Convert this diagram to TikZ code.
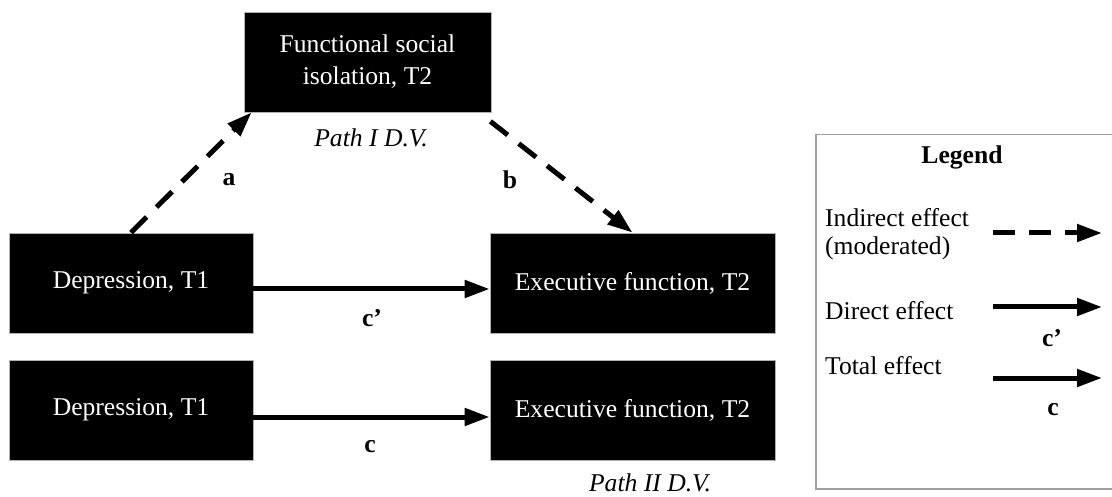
\documentclass[tikz,border=0pt]{standalone}
\usepackage{fontspec}
\setmainfont{Liberation Serif}
\usetikzlibrary{arrows.meta}
\begin{document}
\begin{tikzpicture}[x=1pt,y=-1pt,
  box/.style={fill=black, draw=gray!60, line width=0.8pt, text=white, inner sep=0pt, align=center, font=\fontsize{25.6}{32}\selectfont},
  lbl/.style={font=\fontsize{25.6}{30}\selectfont\bfseries, inner sep=0pt},
  dv/.style={font=\fontsize{25.6}{30}\selectfont\itshape, inner sep=0pt},
  txt/.style={font=\fontsize{25.6}{28}\selectfont, inner sep=0pt, align=left, anchor=west},
  arr/.style={line width=5pt, -{Triangle[length=25pt,width=17pt]}},
  darr/.style={arr, dash pattern=on 22pt off 14pt},
]
\useasboundingbox (0,0) rectangle (1112,497);
\clip (0,0) rectangle (1112,497);

\node[box, minimum width=247pt, minimum height=100pt] (fsi) at (367.5,62) {Functional social\\isolation, T2};
\node[box, minimum width=244pt, minimum height=100pt] (dep1) at (131,283) {Depression, T1};
\node[box, minimum width=285pt, minimum height=100pt] (ef1) at (632.5,283) {Executive function, T2};
\node[box, minimum width=244pt, minimum height=100pt] (dep2) at (131,410) {Depression, T1};
\node[box, minimum width=285pt, minimum height=100pt] (ef2) at (632.5,410) {Executive function, T2};

\node[dv] (p1) at (371,138) {Path I D.V.};
\node[dv] (p2) at (650,483) {Path II D.V.};

\draw[darr] (dep1.north) -- ([xshift=8pt]fsi.south west);
\draw[darr] ([xshift=-1pt,yshift=-9pt]fsi.south east) -- (ef1.north);
\draw[arr] ([yshift=-6pt]dep1.east) -- ([yshift=-6pt]ef1.west);
\draw[arr] ([yshift=-7pt]dep2.east) -- ([yshift=-7pt]ef2.west);

\node[lbl] (la) at (229,180) {a};
\node[lbl] (lb) at (510,180) {b};
\node[lbl] (lcp) at (372,318) {c’};
\node[lbl] (lc) at (370,447) {c};

% legend
\node[draw=gray!75, line width=1.5pt, anchor=north west, minimum width=301pt, minimum height=354pt, inner sep=0pt] (leg) at (815,134) {};
\node[lbl] (legt) at (962,157) {Legend};
\node[txt] (t1) at (825,234) {Indirect effect\\(moderated)};
\node[txt] (t2) at (825,311) {Direct effect};
\node[txt] (t3) at (825,366) {Total effect};
\coordinate (a1s) at (993,233);
\coordinate (a1e) at (1102,233);
\coordinate (a2s) at (993,307);
\coordinate (a2e) at (1102,307);
\coordinate (a3s) at (993,378);
\coordinate (a3e) at (1102,378);
\draw[darr] (a1s) -- (a1e);
\draw[arr] (a2s) -- (a2e);
\draw[arr] (a3s) -- (a3e);
\node[lbl] (lg1) at (1052,338) {c’};
\node[lbl] (lg2) at (1053,410) {c};
\end{tikzpicture}
\end{document}
